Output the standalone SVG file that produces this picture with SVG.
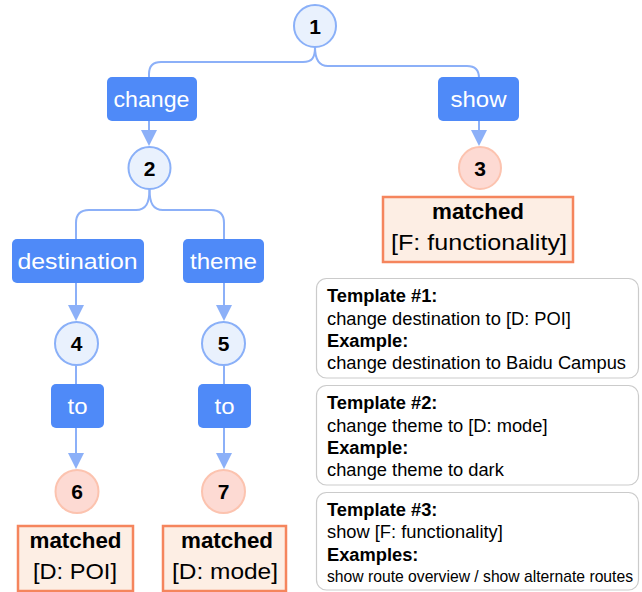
<svg xmlns="http://www.w3.org/2000/svg" width="642" height="592" viewBox="0 0 642 592">
<defs>
<style>
.cn{fill:none;stroke:#8cb0f8;stroke-width:2}
.ah{fill:#8cb0f8}
.bx{fill:#4f8af8}
.bt{font-family:"Liberation Sans",Arial,sans-serif;font-size:22px;fill:#ffffff;text-anchor:middle}
.cb{fill:#e9f1fd;stroke:#8ab0f8;stroke-width:2}
.cp{fill:#fddad3;stroke:#fcc3af;stroke-width:2}
.ct{font-family:"Liberation Sans",Arial,sans-serif;font-size:21px;font-weight:bold;fill:#000;text-anchor:middle}
.mb{fill:#fdeee4;stroke:#f5855d;stroke-width:2.5}
.mt{font-family:"Liberation Sans",Arial,sans-serif;font-size:22px;fill:#000;text-anchor:middle}
.tb{fill:#ffffff;stroke:#cbcbcb;stroke-width:1.2}
.tt{font-family:"Liberation Sans",Arial,sans-serif;font-size:18.3px;fill:#000}
.b{font-weight:bold}
</style>
</defs>
<rect width="642" height="592" fill="#ffffff"/>
<g id="connectors">
<path class="cn" d="M315,47 C315,58 312,62 303,62 L161,62 Q149,62 149,74 L149,77"/>
<path class="cn" d="M315,47 C315,60 319,66 328,66 L467,66 Q479,66 479,78 L479,77"/>
<path class="cn" d="M149,121 L149,131"/>
<polygon class="ah" points="141,130 157,130 149,146"/>
<path class="cn" d="M479,121 L479,131"/>
<polygon class="ah" points="471,130 487,130 479,146"/>
<path class="cn" d="M149.5,189 C149.5,203 146,210 136,210 L89,210 Q76,210 76,223 L76,239"/>
<path class="cn" d="M149.5,189 C149.5,203 153,210 163,210 L211,210 Q224,210 224,223 L224,239"/>
<path class="cn" d="M76,283 L76,306"/>
<polygon class="ah" points="68,305 84,305 76,321"/>
<path class="cn" d="M224,283 L224,306"/>
<polygon class="ah" points="216,305 232,305 224,321"/>
<path class="cn" d="M76,365 L76,384"/>
<path class="cn" d="M224,365 L224,384"/>
<path class="cn" d="M76,428 L76,454"/>
<polygon class="ah" points="68,453 84,453 76,469"/>
<path class="cn" d="M224,428 L224,454"/>
<polygon class="ah" points="216,453 232,453 224,469"/>
</g>
<g id="node1"><circle class="cb" cx="315" cy="26" r="21"/><text class="ct" x="315" y="33.5">1</text></g>
<g id="edge-change"><rect class="bx" x="107" y="77" width="90" height="44" rx="5"/><text class="bt" x="151.5" y="107" textLength="76" lengthAdjust="spacingAndGlyphs">change</text></g>
<g id="edge-show"><rect class="bx" x="438" y="77" width="81" height="44" rx="5"/><text class="bt" x="478.5" y="107" textLength="56" lengthAdjust="spacingAndGlyphs">show</text></g>
<g id="node2"><circle class="cb" cx="149.5" cy="168" r="21"/><text class="ct" x="149.5" y="175.5">2</text></g>
<g id="node3"><circle class="cp" cx="480" cy="168" r="21"/><text class="ct" x="480" y="175.5">3</text></g>
<g id="match3"><rect class="mb" x="383" y="197" width="190" height="65"/><text class="mt b" x="478" y="219" textLength="92" lengthAdjust="spacingAndGlyphs">matched</text><text class="mt" x="479" y="250" textLength="176" lengthAdjust="spacingAndGlyphs">[F: functionality]</text></g>
<g id="edge-destination"><rect class="bx" x="12" y="239" width="132" height="44" rx="5"/><text class="bt" x="77.5" y="269" textLength="120" lengthAdjust="spacingAndGlyphs">destination</text></g>
<g id="edge-theme"><rect class="bx" x="183" y="239" width="81" height="44" rx="5"/><text class="bt" x="223.5" y="269" textLength="67" lengthAdjust="spacingAndGlyphs">theme</text></g>
<g id="node4"><circle class="cb" cx="76.5" cy="343.5" r="21.5"/><text class="ct" x="76.5" y="351">4</text></g>
<g id="node5"><circle class="cb" cx="223.5" cy="343.5" r="21.5"/><text class="ct" x="223.5" y="351">5</text></g>
<g id="edge-to-1"><rect class="bx" x="51" y="384" width="53" height="44" rx="5"/><text class="bt" x="77.5" y="414" textLength="20" lengthAdjust="spacingAndGlyphs">to</text></g>
<g id="edge-to-2"><rect class="bx" x="198" y="384" width="53" height="44" rx="5"/><text class="bt" x="224.5" y="414" textLength="20" lengthAdjust="spacingAndGlyphs">to</text></g>
<g id="node6"><circle class="cp" cx="77" cy="491.5" r="21.5"/><text class="ct" x="77" y="499">6</text></g>
<g id="node7"><circle class="cp" cx="223.5" cy="491.5" r="21.5"/><text class="ct" x="223.5" y="499">7</text></g>
<g id="match6"><rect class="mb" x="18" y="526" width="115" height="65"/><text class="mt b" x="75.5" y="548" textLength="92" lengthAdjust="spacingAndGlyphs">matched</text><text class="mt" x="75" y="579" textLength="84" lengthAdjust="spacingAndGlyphs">[D: POI]</text></g>
<g id="match7"><rect class="mb" x="163" y="526" width="123" height="65"/><text class="mt b" x="227" y="548" textLength="92" lengthAdjust="spacingAndGlyphs">matched</text><text class="mt" x="225" y="579" textLength="106" lengthAdjust="spacingAndGlyphs">[D: mode]</text></g>
<g id="template1"><rect class="tb" x="316.5" y="278.5" width="322" height="99.5" rx="10"/>
<text class="tt b" x="327" y="302">Template #1:</text>
<text class="tt" x="327" y="325">change destination to [D: POI]</text>
<text class="tt b" x="327" y="347">Example:</text>
<text class="tt" x="327" y="369" textLength="299" lengthAdjust="spacingAndGlyphs">change destination to Baidu Campus</text></g>
<g id="template2"><rect class="tb" x="316.5" y="385.5" width="322" height="99.5" rx="10"/>
<text class="tt b" x="327" y="409">Template #2:</text>
<text class="tt" x="327" y="432">change theme to [D: mode]</text>
<text class="tt b" x="327" y="454">Example:</text>
<text class="tt" x="327" y="476">change theme to dark</text></g>
<g id="template3"><rect class="tb" x="316.5" y="492.5" width="322" height="97.5" rx="10"/>
<text class="tt b" x="327" y="516">Template #3:</text>
<text class="tt" x="327" y="538">show [F: functionality]</text>
<text class="tt b" x="327" y="561">Examples:</text>
<text class="tt" x="327" y="582" style="font-size:15.7px" textLength="306" lengthAdjust="spacingAndGlyphs">show route overview / show alternate routes</text></g>
</svg>
